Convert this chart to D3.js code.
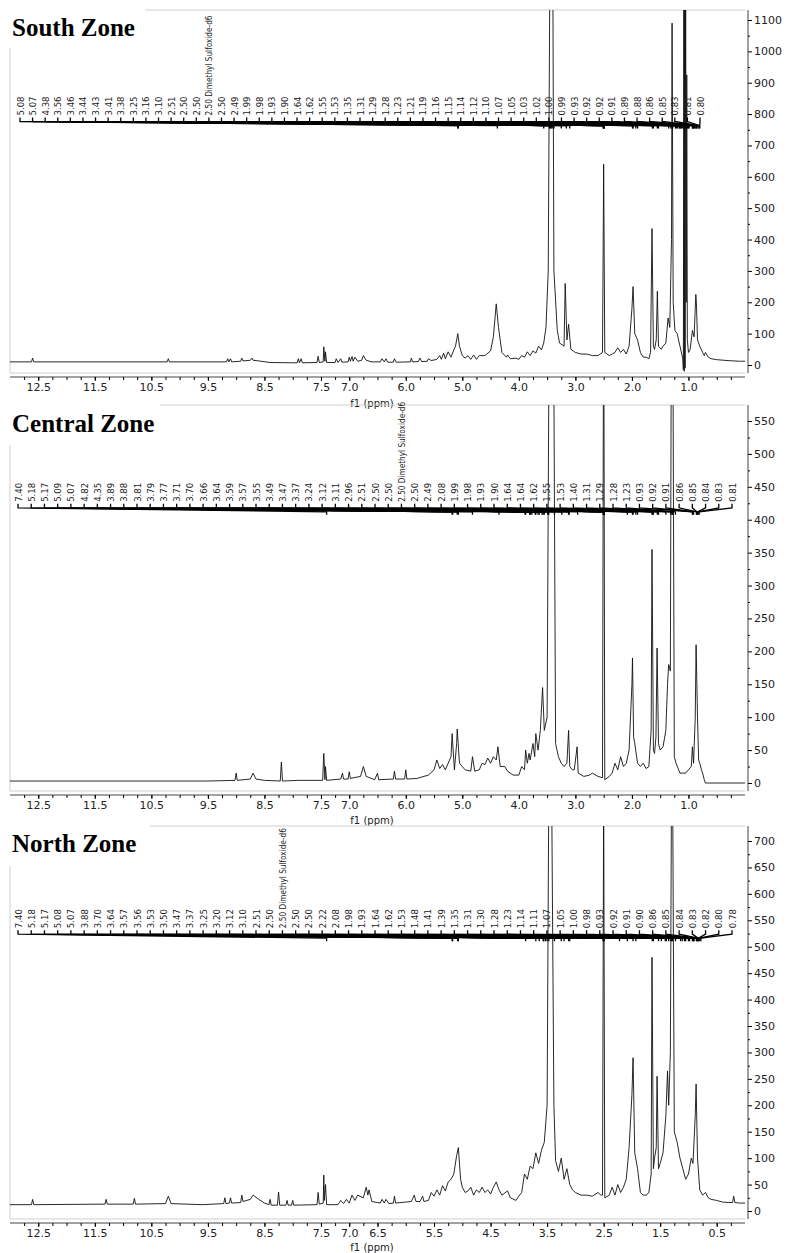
<!DOCTYPE html>
<html><head><meta charset="utf-8">
<script src="https://cdn.jsdelivr.net/npm/d3@7"></script>
<style>body{margin:0;background:#fff}svg{display:block}</style>
</head><body>
<svg id="c" width="790" height="1253"></svg>
<script>
// ---------- DATA ----------
const titles = ["South Zone", "Central Zone", "North Zone"];
const yMax = [1100, 550, 700];
const yTickStep = [100, 50, 50];
const xTicksA = [12.5, 11.5, 10.5, 9.5, 8.5, 7.5, 7.0, 6.0, 5.0, 4.0, 3.0, 2.0, 1.0];
const xTicksB = [12.5, 11.5, 10.5, 9.5, 8.5, 7.5, 7.0, 6.5, 5.5, 4.5, 3.5, 2.5, 1.5, 0.5];

const southLabels = [5.08,5.07,4.38,3.56,3.46,3.44,3.43,3.41,3.38,3.25,3.16,3.10,2.51,2.50,2.50,2.50,2.50,2.49,1.99,1.98,1.93,1.90,1.64,1.62,1.55,1.53,1.35,1.31,1.29,1.28,1.23,1.21,1.19,1.16,1.15,1.14,1.12,1.10,1.07,1.05,1.03,1.02,1.00,0.99,0.93,0.92,0.92,0.91,0.89,0.88,0.86,0.85,0.83,0.81,0.80];
const centralLabels = [7.40,5.18,5.17,5.09,5.07,4.82,4.35,3.89,3.88,3.81,3.79,3.77,3.71,3.70,3.66,3.64,3.59,3.57,3.55,3.49,3.47,3.37,3.24,3.12,3.11,2.96,2.51,2.50,2.50,2.50,2.50,2.49,2.08,1.99,1.98,1.93,1.90,1.64,1.64,1.62,1.55,1.53,1.40,1.31,1.29,1.28,1.23,0.93,0.92,0.91,0.86,0.85,0.84,0.83,0.81];
const northLabels = [7.40,5.18,5.17,5.08,5.07,3.88,3.70,3.64,3.57,3.56,3.53,3.50,3.47,3.37,3.25,3.20,3.12,3.10,2.51,2.50,2.50,2.50,2.50,2.22,2.08,1.98,1.93,1.64,1.62,1.53,1.48,1.41,1.39,1.35,1.31,1.30,1.28,1.23,1.14,1.11,1.07,1.05,1.00,0.98,0.93,0.92,0.91,0.90,0.86,0.85,0.84,0.83,0.82,0.80,0.78];
const solventIndex = [15, 29, 20];
const labelLevel = [770, 415, 520];

const southSpec = [[13.0,10],[12.62,10],[12.6,22],[12.58,10],[10.22,10],[10.2,20],[10.18,10],[9.17,10],[9.15,20],[9.13,10],[9.1,20],[9.08,10],[8.92,12],[8.9,22],[8.88,13],[8.75,15],[8.72,22],[8.7,15],[8.6,13],[8.4,8],[8.0,7],[7.92,7],[7.9,20],[7.88,7],[7.85,20],[7.83,7],[7.57,8],[7.55,28],[7.53,8],[7.46,10],[7.45,58],[7.43,12],[7.42,42],[7.40,8],[7.25,8],[7.23,20],[7.2,8],[7.15,20],[7.13,9],[7.02,10],[7.0,25],[6.98,12],[6.95,27],[6.93,12],[6.9,25],[6.85,12],[6.78,15],[6.75,30],[6.7,15],[6.6,10],[6.45,10],[6.42,20],[6.38,10],[6.35,20],[6.32,9],[6.22,9],[6.2,20],[6.17,9],[5.92,10],[5.9,22],[5.88,10],[5.78,11],[5.75,22],[5.72,11],[5.62,12],[5.6,20],[5.55,14],[5.45,18],[5.4,30],[5.37,18],[5.33,38],[5.3,20],[5.25,42],[5.2,25],[5.15,48],[5.12,60],[5.08,100],[5.05,60],[5.0,30],[4.95,22],[4.9,30],[4.85,18],[4.8,32],[4.75,18],[4.7,30],[4.6,30],[4.5,45],[4.45,90],[4.4,195],[4.36,120],[4.3,40],[4.22,25],[4.2,32],[4.15,20],[4.05,22],[4.0,18],[3.95,30],[3.9,25],[3.85,42],[3.8,30],[3.75,45],[3.7,38],[3.65,60],[3.6,48],[3.56,70],[3.52,120],[3.48,300],[3.45,1300],[3.43,1300],[3.40,1300],[3.38,300],[3.32,110],[3.28,70],[3.2,60],[3.18,260],[3.15,80],[3.12,130],[3.08,50],[3.0,40],[2.9,35],[2.8,35],[2.7,30],[2.6,30],[2.52,40],[2.5,640],[2.48,40],[2.4,30],[2.3,40],[2.25,55],[2.2,40],[2.15,50],[2.1,35],[2.05,60],[2.0,180],[1.98,250],[1.95,100],[1.9,80],[1.85,40],[1.8,25],[1.75,25],[1.7,20],[1.67,40],[1.645,435],[1.62,60],[1.6,50],[1.57,80],[1.55,235],[1.53,60],[1.48,50],[1.45,60],[1.4,70],[1.36,150],[1.33,120],[1.3,400],[1.29,1090],[1.27,200],[1.24,110],[1.2,100],[1.15,60],[1.1,20],[1.09,-15],[1.08,1300],[1.075,-20],[1.07,1300],[1.06,-10],[1.05,1300],[1.04,200],[1.03,925],[1.02,80],[1.0,40],[0.97,50],[0.93,110],[0.9,90],[0.87,225],[0.86,200],[0.84,80],[0.8,60],[0.75,40],[0.72,30],[0.7,40],[0.65,25],[0.6,20],[0.5,17],[0.3,14],[0.1,12],[0.0,12]];

const centralSpec = [[13,3],[9.5,3],[9.02,4],[9.0,15],[8.98,4],[8.75,6],[8.7,15],[8.65,6],[8.5,4],[8.22,3],[8.2,32],[8.18,3],[7.9,4],[7.47,4],[7.45,45],[7.43,5],[7.42,25],[7.4,4],[7.15,6],[7.12,15],[7.1,6],[7.02,6],[7.0,17],[6.98,7],[6.8,10],[6.75,25],[6.7,10],[6.55,5],[6.5,15],[6.48,5],[6.22,6],[6.2,18],[6.18,6],[6.02,6],[6.0,20],[5.98,6],[5.8,7],[5.6,12],[5.5,20],[5.45,35],[5.4,22],[5.35,28],[5.3,20],[5.2,40],[5.18,75],[5.14,20],[5.1,60],[5.09,82],[5.05,30],[5.0,25],[4.95,20],[4.85,18],[4.82,40],[4.78,18],[4.7,20],[4.65,30],[4.6,28],[4.55,38],[4.5,30],[4.45,40],[4.4,35],[4.37,55],[4.33,25],[4.25,25],[4.2,18],[4.1,12],[4.0,12],[3.95,25],[3.9,20],[3.88,50],[3.85,30],[3.82,45],[3.8,35],[3.75,60],[3.72,40],[3.7,75],[3.66,50],[3.62,80],[3.58,145],[3.55,80],[3.5,100],[3.47,600],[3.45,800],[3.40,800],[3.38,600],[3.35,60],[3.3,40],[3.25,30],[3.2,25],[3.15,30],[3.12,80],[3.1,25],[3.05,20],[3.02,20],[2.97,55],[2.95,15],[2.85,10],[2.75,12],[2.7,15],[2.6,10],[2.52,8],[2.5,800],[2.48,5],[2.4,10],[2.35,15],[2.3,30],[2.25,20],[2.2,40],[2.15,25],[2.1,30],[2.05,50],[2.0,150],[1.99,190],[1.97,70],[1.95,60],[1.9,30],[1.85,25],[1.8,30],[1.75,22],[1.7,25],[1.66,80],[1.645,355],[1.62,50],[1.6,45],[1.575,70],[1.555,205],[1.53,60],[1.5,50],[1.45,55],[1.4,80],[1.37,150],[1.35,180],[1.32,170],[1.3,800],[1.28,800],[1.25,40],[1.22,30],[1.15,15],[1.1,15],[1.05,15],[1.0,20],[0.95,25],[0.93,55],[0.91,30],[0.88,100],[0.865,210],[0.84,100],[0.82,35],[0.8,30],[0.77,20],[0.75,15],[0.72,5],[0.7,0],[0.0,0]];

const northSpec = [[13,12],[12.62,12],[12.6,22],[12.58,12],[11.32,13],[11.3,22],[11.28,13],[10.82,13],[10.8,24],[10.78,13],[10.25,14],[10.2,28],[10.15,14],[9.6,12],[9.22,14],[9.2,25],[9.18,14],[9.12,15],[9.1,25],[9.08,15],[8.92,16],[8.9,30],[8.88,18],[8.75,22],[8.7,30],[8.6,22],[8.5,15],[8.42,12],[8.4,22],[8.38,11],[8.27,11],[8.25,36],[8.23,11],[8.12,11],[8.1,20],[8.08,11],[8.02,11],[8.0,20],[7.98,11],[7.57,12],[7.55,35],[7.53,13],[7.46,15],[7.45,68],[7.44,20],[7.42,50],[7.4,12],[7.2,12],[7.15,20],[7.1,14],[7.05,22],[7.0,15],[6.95,30],[6.9,20],[6.85,30],[6.75,25],[6.7,45],[6.67,30],[6.65,40],[6.6,18],[6.45,15],[6.42,22],[6.38,15],[6.35,22],[6.3,14],[6.22,15],[6.2,28],[6.18,15],[5.9,18],[5.85,30],[5.82,18],[5.75,18],[5.7,28],[5.68,18],[5.6,20],[5.55,35],[5.5,28],[5.45,40],[5.4,30],[5.35,48],[5.3,38],[5.25,55],[5.2,60],[5.15,70],[5.1,105],[5.07,120],[5.03,60],[5.0,45],[4.95,35],[4.9,38],[4.85,45],[4.8,30],[4.75,40],[4.7,35],[4.65,45],[4.6,35],[4.55,40],[4.5,32],[4.45,45],[4.4,55],[4.35,40],[4.3,30],[4.2,38],[4.15,25],[4.05,20],[4.0,28],[3.95,35],[3.9,70],[3.85,60],[3.8,85],[3.75,80],[3.7,110],[3.65,90],[3.6,115],[3.55,130],[3.5,200],[3.47,800],[3.42,800],[3.38,200],[3.35,95],[3.3,75],[3.25,100],[3.2,60],[3.15,80],[3.1,50],[3.05,40],[3.0,35],[2.9,30],[2.8,30],[2.7,28],[2.6,35],[2.55,30],[2.52,30],[2.5,800],[2.48,25],[2.4,30],[2.35,45],[2.3,30],[2.25,50],[2.2,35],[2.15,45],[2.1,60],[2.05,120],[2.0,220],[1.98,290],[1.95,110],[1.9,80],[1.85,35],[1.8,30],[1.75,30],[1.7,35],[1.66,70],[1.645,480],[1.62,80],[1.6,100],[1.57,120],[1.555,255],[1.53,80],[1.5,90],[1.45,110],[1.4,180],[1.37,265],[1.35,200],[1.32,300],[1.3,800],[1.28,800],[1.25,150],[1.2,130],[1.15,100],[1.1,80],[1.05,60],[1.0,70],[0.95,100],[0.92,90],[0.88,180],[0.865,240],[0.84,100],[0.8,40],[0.75,30],[0.7,35],[0.65,25],[0.6,22],[0.5,20],[0.4,17],[0.3,16],[0.22,16],[0.2,28],[0.18,16],[0.1,15],[0.0,15]];

// ---------- LAYOUT ----------
const panels = [
  {spec: southSpec, labels: southLabels, xt: xTicksA, top: 10, yTop: 20, y0: 365, titleY: 36, titleW: 145, frameLeftStart: 48, lx: [20, 700], fy: 407},
  {spec: centralSpec, labels: centralLabels, xt: xTicksA, top: 405, yTop: 421, y0: 783, titleY: 432, titleW: 160, frameLeftStart: 445, lx: [18, 732], fy: 824},
  {spec: northSpec, labels: northLabels, xt: xTicksB, top: 826, yTop: 841, y0: 1211, titleY: 852, titleW: 150, frameLeftStart: 866, lx: [18, 732], fy: 1251}
];
const X0 = 10, X1 = 745, AX = 748;
const svg = d3.select("#c");

panels.forEach((p, i) => {
  const x = d3.scaleLinear().domain([13.0, 0.0]).range([X0, X1]);
  const y = d3.scaleLinear().domain([0, yMax[i]]).range([p.y0, p.yTop]);
  const g = svg.append("g");
  const bottom = p.y0 + 8;

  g.append("line").attr("x1", p.titleW).attr("x2", X1).attr("y1", p.top).attr("y2", p.top).attr("stroke", "#cfcfcf");
  g.append("line").attr("x1", X0).attr("x2", X0).attr("y1", p.frameLeftStart).attr("y2", bottom).attr("stroke", "#cfcfcf");
  g.append("line").attr("x1", X0).attr("x2", X1).attr("y1", bottom).attr("y2", bottom).attr("stroke", "#cfcfcf");

  const cid = "clip" + i;
  svg.append("clipPath").attr("id", cid).append("rect")
    .attr("x", X0).attr("y", p.top).attr("width", X1 - X0).attr("height", bottom - p.top);

  const line = d3.line().x(d => x(d[0])).y(d => y(d[1]));
  g.append("path").datum(p.spec).attr("d", line).attr("fill", "none")
    .attr("stroke", "#111").attr("stroke-width", 0.9).attr("clip-path", `url(#${cid})`);

  // peak labels
  const ly = y(labelLevel[i]);
  const n = p.labels.length;
  const lxs = d3.scaleLinear().domain([0, n - 1]).range(p.lx);
  const lg = g.append("g");
  p.labels.forEach((v, k) => {
    const lx = lxs(k);
    lg.append("path")
      .attr("d", `M${lx},${ly - 6}V${ly - 2}L${x(v)},${ly + 2}V${ly + 5}`)
      .attr("fill", "none").attr("stroke", "#000").attr("stroke-width", 1.3);
    const t = lg.append("text").attr("transform", `translate(${lx + 3.5},${ly - 8}) rotate(-90)`)
      .attr("font-family", "DejaVu Sans Condensed, DejaVu Sans, sans-serif")
      .attr("font-stretch", "condensed")
      .attr("font-size", 9.5).attr("fill", "#222");
    if (k === solventIndex[i]) {
      t.text(v.toFixed(2) + " Dimethyl Sulfoxide-d6").attr("textLength", 100).attr("lengthAdjust", "spacingAndGlyphs");
    } else {
      t.text(v.toFixed(2));
    }
  });

  // right axis
  const ticks = d3.range(0, yMax[i] + 1, yTickStep[i]);
  const minor = d3.range(yTickStep[i] / 2, yMax[i], yTickStep[i]);
  const ra = g.append("g").attr("transform", `translate(${AX},0)`)
    .call(d3.axisRight(y).tickValues(ticks).tickSize(4).tickPadding(2).tickSizeOuter(0).tickFormat(d3.format("d")));
  ra.select(".domain").attr("d", `M0,${p.top}V${bottom}`).attr("stroke", "#444");
  ra.selectAll("text").attr("font-family", "DejaVu Sans, sans-serif").attr("font-size", 11).attr("fill", "#222");
  g.append("g").attr("transform", `translate(${AX},0)`)
    .call(d3.axisRight(y).tickValues(minor).tickSize(2).tickFormat(""))
    .select(".domain").remove();

  // bottom axis
  const axY = bottom + 4;
  const ba = g.append("g").attr("transform", `translate(0,${axY})`)
    .call(d3.axisBottom(x).tickValues(p.xt).tickSize(4).tickPadding(2).tickFormat(d3.format(".1f")).tickSizeOuter(0));
  ba.select(".domain").attr("d", `M${X0},0H${X1}`).attr("stroke", "#444");
  ba.selectAll("text").attr("font-family", "DejaVu Sans, sans-serif").attr("font-size", 11).attr("fill", "#222");
  g.append("g").attr("transform", `translate(0,${axY})`)
    .call(d3.axisBottom(x).tickValues(d3.range(0.25, 13, 0.25)).tickSize(3).tickFormat(""))
    .select(".domain").remove();
  g.append("text").attr("x", 372).attr("y", p.fy).attr("text-anchor", "middle")
    .attr("font-family", "DejaVu Sans, sans-serif").attr("font-size", 10).attr("fill", "#222").text("f1 (ppm)");

  g.append("text").attr("x", 12).attr("y", p.titleY)
    .attr("font-family", "Liberation Serif, DejaVu Serif, serif").attr("font-weight", "bold")
    .attr("font-size", 25).attr("fill", "#000").text(titles[i]);
});
</script>
</body></html>
